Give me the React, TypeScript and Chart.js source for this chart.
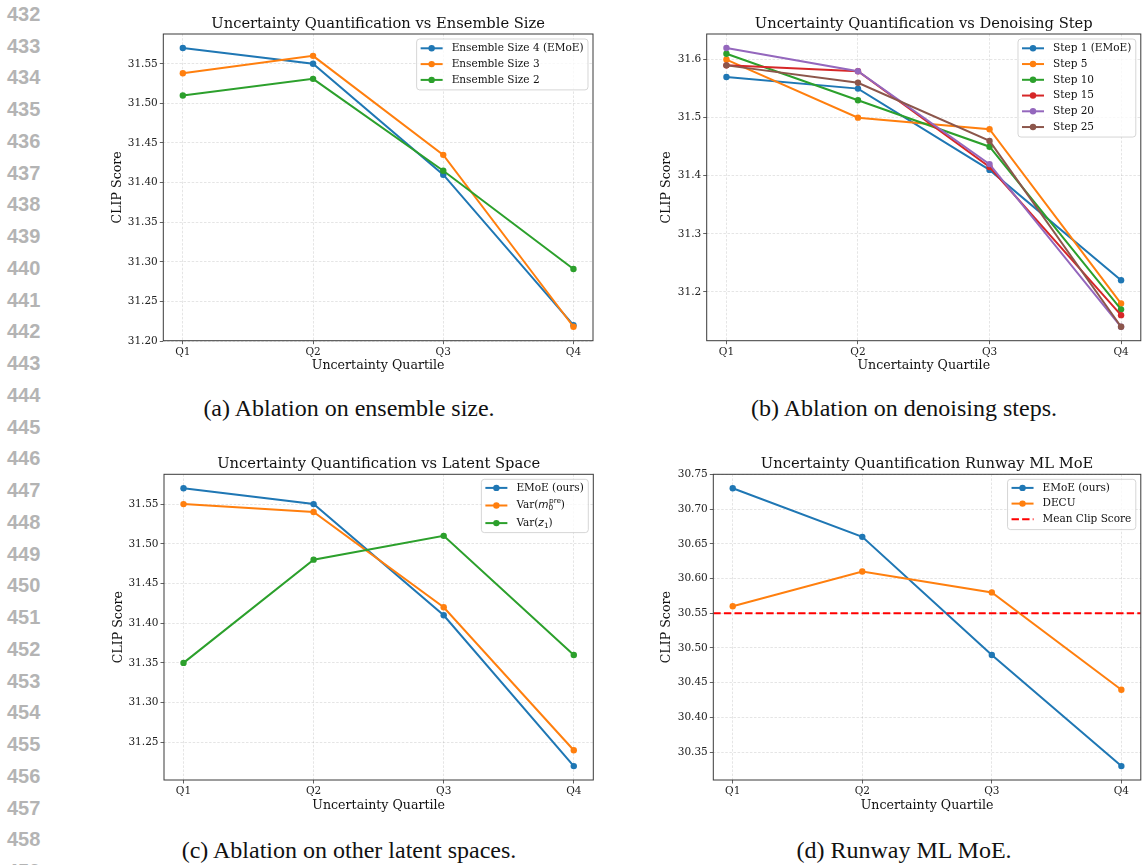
import React, { useEffect, useRef } from "react";
import { Chart, registerables } from "chart.js";

Chart.register(...registerables);

// ---------------- data ----------------
const QUARTILES = ["Q1", "Q2", "Q3", "Q4"];

// (a) ensemble size
const ENSEMBLE_4 = [31.57, 31.55, 31.41, 31.22];
const ENSEMBLE_3 = [31.538, 31.56, 31.435, 31.218];
const ENSEMBLE_2 = [31.51, 31.531, 31.415, 31.291];

// (b) denoising step
const STEP_1 = [31.57, 31.55, 31.41, 31.22];
const STEP_5 = [31.6, 31.5, 31.48, 31.18];
const STEP_10 = [31.61, 31.53, 31.45, 31.17];
const STEP_15 = [31.59, 31.58, 31.415, 31.16];
const STEP_20 = [31.62, 31.58, 31.42, 31.14];
const STEP_25 = [31.59, 31.56, 31.46, 31.14];

// (c) latent space
const LATENT_EMOE = [31.57, 31.55, 31.41, 31.22];
const LATENT_M0 = [31.55, 31.54, 31.42, 31.24];
const LATENT_Z1 = [31.35, 31.48, 31.51, 31.36];

// (d) Runway ML MoE
const RUNWAY_EMOE = [30.73, 30.66, 30.49, 30.33];
const RUNWAY_DECU = [30.56, 30.61, 30.58, 30.44];
const MEAN_CLIP_SCORE = [30.55];

// tick labels
const TICKS_A = [31.2, 31.25, 31.3, 31.35, 31.4, 31.45, 31.5, 31.55];
const TICKS_B = [31.2, 31.3, 31.4, 31.5, 31.6];
const TICKS_C = [31.25, 31.3, 31.35, 31.4, 31.45, 31.5, 31.55];
const TICKS_D = [30.35, 30.4, 30.45, 30.5, 30.55, 30.6, 30.65, 30.7, 30.75];

const TITLES = [
  "Uncertainty Quantification vs Ensemble Size",
  "Uncertainty Quantification vs Denoising Step",
  "Uncertainty Quantification vs Latent Space",
  "Uncertainty Quantification Runway ML MoE",
];
const CAPTIONS = [
  "(a) Ablation on ensemble size.",
  "(b) Ablation on denoising steps.",
  "(c) Ablation on other latent spaces.",
  "(d) Runway ML MoE.",
];
const LINE_NUMBERS = [
  432, 433, 434, 435, 436, 437, 438, 439, 440, 441, 442, 443, 444, 445, 446,
  447, 448, 449, 450, 451, 452, 453, 454, 455, 456, 457, 458, 459,
];
const X_LABEL = "Uncertainty Quartile";
const Y_LABEL = "CLIP Score";

// ---------------- styles ----------------
const SERIF = '"DejaVu Serif", serif';
const SANS = '"DejaVu Sans", sans-serif';
const C = {
  blue: "#1f77b4",
  orange: "#ff7f0e",
  green: "#2ca02c",
  red: "#d62728",
  purple: "#9467bd",
  brown: "#8c564b",
  pureRed: "#ff0000",
};
const X_MIN = -0.15;
const X_MAX = QUARTILES.length - 1 + 0.15;

type Seg = { t: string; k?: "it" | "sub"; sup?: string };
type Series = {
  label: string;
  rich?: Seg[];
  values: number[];
  color: string;
  span?: boolean;
};
type Spec = {
  title: string;
  series: Series[];
  ticks: number[];
  decimals: number;
  canvas: { left: number; top: number; w: number; h: number };
  yAxisWidth: number;
  padRight: number;
  padTop: number;
  xAxisHeight: number;
  yTitleCenter: number;
  legend: { firstOffset: number; rowH: number; bottomPad: number };
};

const SPECS: Spec[] = [
  {
    title: TITLES[0],
    series: [
      { label: "Ensemble Size 4 (EMoE)", values: ENSEMBLE_4, color: C.blue },
      { label: "Ensemble Size 3", values: ENSEMBLE_3, color: C.orange },
      { label: "Ensemble Size 2", values: ENSEMBLE_2, color: C.green },
    ],
    ticks: TICKS_A,
    decimals: 2,
    canvas: { left: 100, top: 0, w: 510, h: 385 },
    yAxisWidth: 63.3,
    padRight: 17,
    padTop: 34,
    xAxisHeight: 44.3,
    yTitleCenter: 18,
    legend: { firstOffset: 9.3, rowH: 15.8, bottomPad: 10 },
  },
  {
    title: TITLES[1],
    series: [
      { label: "Step 1 (EMoE)", values: STEP_1, color: C.blue },
      { label: "Step 5", values: STEP_5, color: C.orange },
      { label: "Step 10", values: STEP_10, color: C.green },
      { label: "Step 15", values: STEP_15, color: C.red },
      { label: "Step 20", values: STEP_20, color: C.purple },
      { label: "Step 25", values: STEP_25, color: C.brown },
    ],
    ticks: TICKS_B,
    decimals: 1,
    canvas: { left: 640, top: 0, w: 504, h: 385 },
    yAxisWidth: 66.7,
    padRight: 1.3,
    padTop: 34,
    xAxisHeight: 44.3,
    yTitleCenter: 26.7,
    legend: { firstOffset: 9.3, rowH: 15.75, bottomPad: 10 },
  },
  {
    title: TITLES[2],
    series: [
      { label: "EMoE (ours)", values: LATENT_EMOE, color: C.blue },
      {
        label: "Var(m0pre)",
        rich: [{ t: "Var(" }, { t: "m", k: "it" }, { t: "0", k: "sub", sup: "pre" }, { t: ")" }],
        values: LATENT_M0,
        color: C.orange,
      },
      {
        label: "Var(z1)",
        rich: [{ t: "Var(" }, { t: "z", k: "it" }, { t: "1", k: "sub" }, { t: ")" }],
        values: LATENT_Z1,
        color: C.green,
      },
    ],
    ticks: TICKS_C,
    decimals: 2,
    canvas: { left: 100, top: 440, w: 510, h: 385 },
    yAxisWidth: 64,
    padRight: 16.7,
    padTop: 34.3,
    xAxisHeight: 45,
    yTitleCenter: 18.3,
    legend: { firstOffset: 8.6, rowH: 17.6, bottomPad: 9.5 },
  },
  {
    title: TITLES[3],
    series: [
      { label: "EMoE (ours)", values: RUNWAY_EMOE, color: C.blue },
      { label: "DECU", values: RUNWAY_DECU, color: C.orange },
      { label: "Mean Clip Score", values: MEAN_CLIP_SCORE, color: C.pureRed, span: true },
    ],
    ticks: TICKS_D,
    decimals: 2,
    canvas: { left: 640, top: 440, w: 504, h: 385 },
    yAxisWidth: 73.3,
    padRight: 1.3,
    padTop: 34.3,
    xAxisHeight: 45,
    yTitleCenter: 26.7,
    legend: { firstOffset: 8.6, rowH: 15.7, bottomPad: 10.3 },
  },
];

// ---------------- helpers ----------------
const TICK_SIZE = 10.5;
const LEGEND_SIZE = 10.5;
const LABEL_SIZE = 12.6;
const TITLE_SIZE = 14.7;
const DASH = [7.4, 3.2];

function segFont(seg: Seg, size: number) {
  if (seg.k === "it") return `italic ${size}px ${SANS}`;
  if (seg.k === "sub") return `${size * 0.7}px ${SANS}`;
  return `${size}px ${SERIF}`;
}

function segWidth(ctx: CanvasRenderingContext2D, seg: Seg, size: number) {
  ctx.font = segFont(seg, size);
  let w = ctx.measureText(seg.t).width;
  if (seg.sup) {
    ctx.font = `${size * 0.7}px ${SANS}`;
    w = Math.max(w, ctx.measureText(seg.sup).width);
  }
  return w;
}

function richWidth(ctx: CanvasRenderingContext2D, segs: Seg[], size: number) {
  return segs.reduce((acc, s) => acc + segWidth(ctx, s, size), 0);
}

function drawRich(ctx: CanvasRenderingContext2D, segs: Seg[], x: number, y: number, size: number) {
  let cx = x;
  for (const s of segs) {
    ctx.font = segFont(s, size);
    ctx.textBaseline = "middle";
    ctx.textAlign = "left";
    const dy = s.k === "sub" ? size * 0.28 : 0;
    ctx.fillText(s.t, cx, y + dy);
    if (s.sup) {
      ctx.font = `${size * 0.7}px ${SANS}`;
      ctx.fillText(s.sup, cx + 0.5, y - size * 0.42);
    }
    cx += segWidth(ctx, s, size);
  }
}

function makeDecor(spec: Spec) {
  return {
    id: "decor",
    afterDraw(chart: any) {
      const ctx: CanvasRenderingContext2D = chart.ctx;
      const a = chart.chartArea;
      ctx.save();
      // axes frame (spines)
      ctx.setLineDash([]);
      ctx.strokeStyle = "#3a3a3a";
      ctx.lineWidth = 1;
      ctx.strokeRect(a.left, a.top, a.right - a.left, a.bottom - a.top);

      // title
      ctx.fillStyle = "#111";
      ctx.font = `${TITLE_SIZE}px ${SERIF}`;
      ctx.textAlign = "center";
      ctx.textBaseline = "middle";
      ctx.fillText(spec.title, (a.left + a.right) / 2, a.top - 10);

      // legend
      const L = spec.legend;
      const items = spec.series;
      const widths = items.map((s) => richWidth(ctx, s.rich ?? [{ t: s.label }], LEGEND_SIZE));
      const boxW = 35 + Math.max(...widths) + 4.5;
      const boxH = L.firstOffset + (items.length - 1) * L.rowH + L.bottomPad;
      const x0 = a.right - 5 - boxW;
      const y0 = a.top + 5;
      ctx.beginPath();
      const r = 3;
      ctx.moveTo(x0 + r, y0);
      ctx.arcTo(x0 + boxW, y0, x0 + boxW, y0 + boxH, r);
      ctx.arcTo(x0 + boxW, y0 + boxH, x0, y0 + boxH, r);
      ctx.arcTo(x0, y0 + boxH, x0, y0, r);
      ctx.arcTo(x0, y0, x0 + boxW, y0, r);
      ctx.closePath();
      ctx.fillStyle = "rgba(255,255,255,0.8)";
      ctx.fill();
      ctx.strokeStyle = "rgba(204,204,204,0.8)";
      ctx.lineWidth = 1;
      ctx.stroke();

      items.forEach((s, i) => {
        const cy = y0 + L.firstOffset + i * L.rowH;
        ctx.strokeStyle = s.color;
        ctx.lineWidth = 2;
        ctx.setLineDash(s.span ? DASH : []);
        ctx.beginPath();
        ctx.moveTo(x0 + 4, cy);
        ctx.lineTo(x0 + 26, cy);
        ctx.stroke();
        ctx.setLineDash([]);
        if (!s.span) {
          ctx.fillStyle = s.color;
          ctx.beginPath();
          ctx.arc(x0 + 15, cy, 3.2, 0, Math.PI * 2);
          ctx.fill();
        }
        ctx.fillStyle = "#111";
        drawRich(ctx, s.rich ?? [{ t: s.label }], x0 + 35, cy, LEGEND_SIZE);
      });
      ctx.restore();
    },
  };
}

function buildConfig(spec: Spec): any {
  const all = spec.series.flatMap((s) => s.values);
  const lo = Math.min(...all);
  const hi = Math.max(...all);
  const range = hi - lo;
  const yMin = lo - 0.05 * range;
  const yMax = hi + 0.05 * range;
  const n = spec.series.length;
  const datasets = spec.series.map((s, i) => ({
    label: s.label,
    data: s.span
      ? [
          { x: X_MIN, y: s.values[0] },
          { x: X_MAX, y: s.values[0] },
        ]
      : s.values.map((v, j) => ({ x: j, y: v })),
    borderColor: s.color,
    backgroundColor: s.color,
    pointBackgroundColor: s.color,
    pointBorderColor: s.color,
    borderWidth: 2,
    borderDash: s.span ? DASH : [],
    pointRadius: s.span ? 0 : 3.2,
    pointHoverRadius: s.span ? 0 : 3.2,
    pointBorderWidth: 0,
    tension: 0,
    fill: false,
    order: n - i,
  }));

  const gridCommon = {
    color: "rgba(160,160,160,0.35)",
    lineWidth: 0.8,
    drawTicks: true,
    tickLength: 3.5,
    tickColor: "#3a3a3a",
    tickWidth: 0.8,
    tickBorderDash: [],
    borderDash: [2.5, 1.6],
  };
  const tickFont = { family: SERIF, size: TICK_SIZE };
  const labelFont = { family: SERIF, size: LABEL_SIZE };
  const xTitlePadBottom = spec.xAxisHeight - 25.3 - (LABEL_SIZE * 1.2) / 2;

  return {
    type: "line",
    data: { datasets },
    plugins: [makeDecor(spec)],
    options: {
      animation: false,
      responsive: false,
      devicePixelRatio: 1,
      events: [],
      layout: { padding: { left: 0, right: spec.padRight, top: spec.padTop, bottom: 0 } },
      plugins: { legend: { display: false }, tooltip: { enabled: false }, title: { display: false } },
      scales: {
        x: {
          type: "linear",
          min: X_MIN,
          max: X_MAX,
          afterBuildTicks: (s: any) => {
            s.ticks = QUARTILES.map((_, i) => ({ value: i }));
          },
          afterFit: (s: any) => {
            s.height = spec.xAxisHeight;
          },
          ticks: {
            callback: (v: number) => QUARTILES[Math.round(v)] ?? "",
            autoSkip: false,
            maxRotation: 0,
            minRotation: 0,
            padding: 1.5,
            font: tickFont,
            color: "#222",
          },
          grid: gridCommon,
          border: { display: false, dash: [2.5, 1.6] },
          title: {
            display: true,
            text: X_LABEL,
            font: labelFont,
            color: "#111",
            padding: { top: 0, bottom: xTitlePadBottom },
          },
        },
        y: {
          type: "linear",
          min: yMin,
          max: yMax,
          afterBuildTicks: (s: any) => {
            s.ticks = spec.ticks.map((v) => ({ value: v }));
          },
          afterFit: (s: any) => {
            s.width = spec.yAxisWidth;
          },
          ticks: {
            callback: (v: number) => Number(v).toFixed(spec.decimals),
            autoSkip: false,
            padding: 2,
            font: tickFont,
            color: "#222",
          },
          grid: gridCommon,
          border: { display: false, dash: [2.5, 1.6] },
          title: {
            display: true,
            text: Y_LABEL,
            font: labelFont,
            color: "#111",
            padding: { top: spec.yTitleCenter - (LABEL_SIZE * 1.2) / 2, bottom: 0 },
          },
        },
      },
    },
  };
}

function ChartPanel({ spec }: { spec: Spec }) {
  const ref = useRef<HTMLCanvasElement>(null);
  useEffect(() => {
    if (!ref.current) return;
    const chart = new Chart(ref.current, buildConfig(spec));
    return () => chart.destroy();
  }, [spec]);
  const c = spec.canvas;
  return (
    <canvas
      ref={ref}
      width={c.w}
      height={c.h}
      style={{ position: "absolute", left: c.left, top: c.top, width: c.w, height: c.h }}
    />
  );
}

// caption centres (subfigure columns) and tops
const CAPTION_POS = [
  { center: 349, top: 396 },
  { center: 904, top: 396 },
  { center: 349, top: 838 },
  { center: 904, top: 838 },
];

export default function App() {
  return (
    <div
      style={{
        position: "fixed",
        left: 0,
        top: 0,
        width: 1144,
        height: 865,
        background: "#fff",
        overflow: "hidden",
      }}
    >
      {LINE_NUMBERS.map((n, i) => (
        <div
          key={n}
          style={{
            position: "absolute",
            left: 7,
            top: 3.9 + i * 31.75,
            font: 'bold 20px "Liberation Sans", Arial, sans-serif',
            lineHeight: "20px",
            color: "#b4b4b4",
            whiteSpace: "nowrap",
          }}
        >
          {n}
        </div>
      ))}
      {SPECS.map((s, i) => (
        <ChartPanel key={i} spec={s} />
      ))}
      {CAPTIONS.map((t, i) => (
        <div
          key={t}
          style={{
            position: "absolute",
            left: CAPTION_POS[i].center - 220,
            width: 440,
            textAlign: "center",
            top: CAPTION_POS[i].top,
            font: '24px "Liberation Serif", "Times New Roman", serif',
            lineHeight: "24px",
            color: "#111",
            whiteSpace: "nowrap",
          }}
        >
          {t}
        </div>
      ))}
    </div>
  );
}
